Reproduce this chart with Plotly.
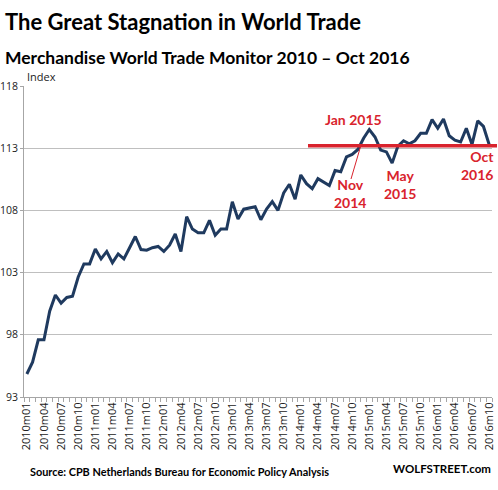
import plotly.graph_objects as go

# ---- data ----
years = [2010, 2011, 2012, 2013, 2014, 2015, 2016]
months = [f"{y}m{m:02d}" for y in years for m in range(1, 13)][:82]
index_values = [
    94.85, 95.8, 97.6, 97.6, 99.9, 101.2, 100.55, 101.0, 101.1, 102.65, 103.7, 103.7,
    104.9, 104.1, 104.7, 103.8, 104.5, 104.1, 105.0, 105.9, 104.85, 104.8, 105.0, 105.1,
    104.7, 105.2, 106.1, 104.7, 107.5, 106.5, 106.2, 106.2, 107.2, 106.0, 106.5, 106.5,
    108.7, 107.3, 108.1, 108.2, 108.3, 107.25, 108.1, 108.7, 108.0, 109.4, 110.1, 108.9,
    110.85, 110.15, 109.75, 110.55, 110.3, 110.0, 111.2, 111.1, 112.3, 112.5, 112.9, 113.8,
    114.5, 113.9, 112.85, 112.7, 111.8, 113.15, 113.6, 113.35, 113.6, 114.2, 114.2, 115.3,
    114.6, 115.35, 114.0, 113.65, 113.5, 114.6, 113.3, 115.2, 114.75, 113.3,
]
y_ticks = [93, 98, 103, 108, 113, 118]
ref_level = 113.2
label_months = months[::3]

# ---- layout geometry (pixels) ----
W, H = 498, 490
L, R, T, B = 24, 6, 86, 93
PW, PH = W - L - R, H - T - B

def px(xp):
    return (xp - L) / PW

def py(yp):
    return 1 - (yp - T) / PH

NAVY = "#1F3A5F"
RED = "#D9232D"
GRID = "#BFBFBF"
FONT = "Lato"

xs = list(range(len(index_values)))
fig = go.Figure()
fig.add_trace(go.Scatter(x=xs, y=index_values, mode="lines",
                         line=dict(color=NAVY, width=3), hoverinfo="skip"))

fig.update_layout(
    width=W, height=H,
    margin=dict(l=L, r=R, t=T, b=B),
    paper_bgcolor="white", plot_bgcolor="white",
    showlegend=False,
    font=dict(family=FONT, color="black"),
    xaxis=dict(
        range=[-0.5, len(index_values) - 0.5],
        tickvals=[months.index(m) for m in label_months],
        ticktext=label_months,
        tickangle=-90,
        tickfont=dict(size=11, family="Open Sans", color="#222"),
        showgrid=False, zeroline=False, automargin=False,
        showline=True, linecolor="#A6A6A6", linewidth=1,
        ticks="outside", ticklen=0, tickcolor="#A6A6A6",
        minor=dict(tick0=-0.5, dtick=1, ticks="outside", ticklen=4,
                   tickcolor="#A6A6A6", showgrid=False),
    ),
    yaxis=dict(
        range=[93, 118],
        tickvals=y_ticks,
        tickfont=dict(size=10.5, family="Open Sans", color="#222"),
        showgrid=True, gridcolor=GRID, gridwidth=1,
        zeroline=False, automargin=False,
        showline=True, linecolor="#A6A6A6", linewidth=1,
        ticks="outside", ticklen=3, tickcolor="#A6A6A6",
    ),
)

# red reference line
fig.add_shape(type="line", xref="paper", yref="y",
              x0=px(308), x1=px(497), y0=ref_level, y1=ref_level,
              line=dict(color=RED, width=3.5))
# thin pointer from Nov 2014 label to the crossing
fig.add_shape(type="line", xref="paper", yref="paper",
              x0=px(351), y0=py(179), x1=px(361), y1=py(145),
              line=dict(color=RED, width=1))

ann = []
ann.append(dict(text="<b>The Great Stagnation in World Trade</b>", x=px(3), y=py(21),
                xanchor="left", yanchor="middle", font=dict(size=22, family=FONT, color="black")))
ann.append(dict(text="<b>Merchandise World Trade Monitor 2010 – Oct 2016</b>", x=px(3), y=py(57),
                xanchor="left", yanchor="middle", font=dict(size=17.5, family=FONT, color="black")))
ann.append(dict(text="Index", x=px(25), y=py(76), xanchor="left", yanchor="middle",
                font=dict(size=11, family="Open Sans", color="#222")))
ann.append(dict(text="<b>Source: CPB Netherlands Bureau for Economic Policy Analysis</b>",
                x=px(28), y=py(471), xanchor="left", yanchor="middle",
                font=dict(size=10.9, family=FONT, color="black")))
ann.append(dict(text="<b>WOLFSTREET.com</b>", x=px(493), y=py(469), xanchor="right", yanchor="middle",
                font=dict(size=11.5, family=FONT, color="black")))

red_font = dict(size=14, family=FONT, color=RED)
ann.append(dict(text="<b>Jan 2015</b>", x=px(353), y=py(119), xanchor="center", yanchor="middle", font=red_font))
ann.append(dict(text="<b>Nov<br>2014</b>", x=px(350), y=py(193), xanchor="center", yanchor="middle", font=red_font))
ann.append(dict(text="<b>May<br>2015</b>", x=px(400), y=py(185), xanchor="center", yanchor="middle", font=red_font))
ann.append(dict(text="<b>Oct<br>2016</b>", x=px(496), y=py(165), xanchor="right", yanchor="middle",
                align="right", font=red_font))

for a in ann:
    a.update(xref="paper", yref="paper", showarrow=False)
    fig.add_annotation(**a)

fig.write_html("out.html", config={"displayModeBar": False},
               post_script="document.body.style.margin='0';document.body.style.padding='0';"
                           "document.documentElement.style.overflow='hidden';")
